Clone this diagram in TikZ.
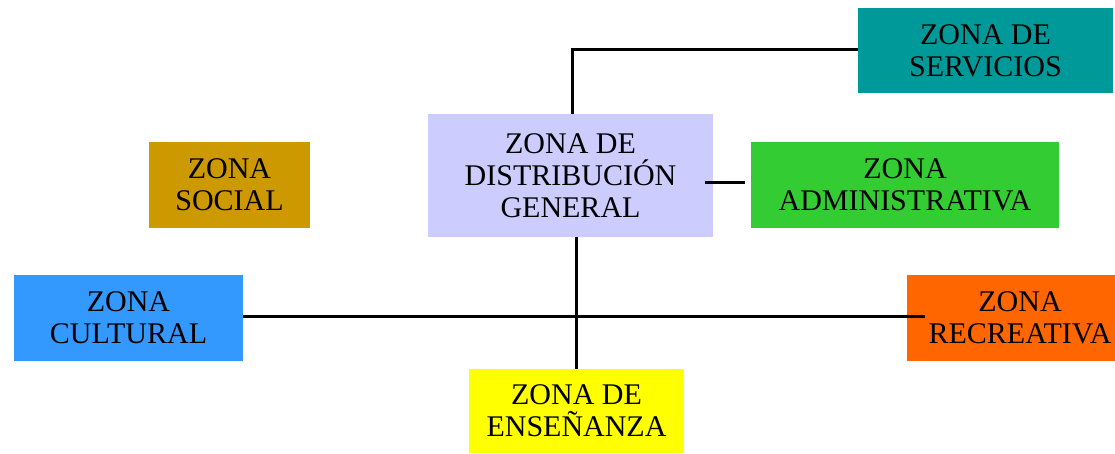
\documentclass[tikz,border=0pt]{standalone}
\usepackage{fontspec}
\setmainfont{Liberation Serif}
\definecolor{cserv}{HTML}{009999}
\definecolor{cdist}{HTML}{CCCCFF}
\definecolor{csoc}{HTML}{CC9900}
\definecolor{cadm}{HTML}{33CC33}
\definecolor{ccul}{HTML}{3399FF}
\definecolor{crec}{HTML}{FF6600}
\definecolor{cens}{HTML}{FFFF00}
\begin{document}
\begin{tikzpicture}[x=1pt,y=-1pt,
  zone/.style={rectangle, inner sep=0pt, align=center, text=black,
    font=\fontsize{30}{32}\selectfont},
  link/.style={draw=black, line width=3pt}]
\useasboundingbox (0,0) rectangle (1115,453);
\node[zone, fill=cserv, minimum width=255pt, minimum height=85pt] (serv) at (985.5,50.5) {ZONA DE\\SERVICIOS};
\node[zone, fill=cdist, minimum width=285pt, minimum height=123pt] (dist) at (570.5,175.5) {ZONA DE\\DISTRIBUCIÓN\\GENERAL};
\node[zone, fill=csoc, minimum width=161pt, minimum height=86pt] (soc) at (229.5,185) {ZONA\\SOCIAL};
\node[zone, fill=cadm, minimum width=308pt, minimum height=86pt] (adm) at (905,185) {ZONA\\ADMINISTRATIVA};
\node[zone, fill=ccul, minimum width=229pt, minimum height=86pt] (cul) at (128.5,318) {ZONA\\CULTURAL};
\node[zone, fill=crec, minimum width=226pt, minimum height=86pt] (rec) at (1020,318) {ZONA\\RECREATIVA};
\node[zone, fill=cens, minimum width=215pt, minimum height=84pt] (ens) at (576.5,411) {ZONA DE\\ENSEÑANZA};
\draw[link] ([xshift=1.5pt]dist.north) |- ([shift={(0,-1.5)}]serv.west);
\draw[link] ([shift={(-8,6.5)}]dist.east) -- ([shift={(-6,-3)}]adm.west);
\draw[link] (dist.south -| ens.north) -- (ens.north);
\draw[link] ([shift={(0,-2)}]cul.east) -- ([shift={(18,-2)}]rec.west);
\end{tikzpicture}
\end{document}
